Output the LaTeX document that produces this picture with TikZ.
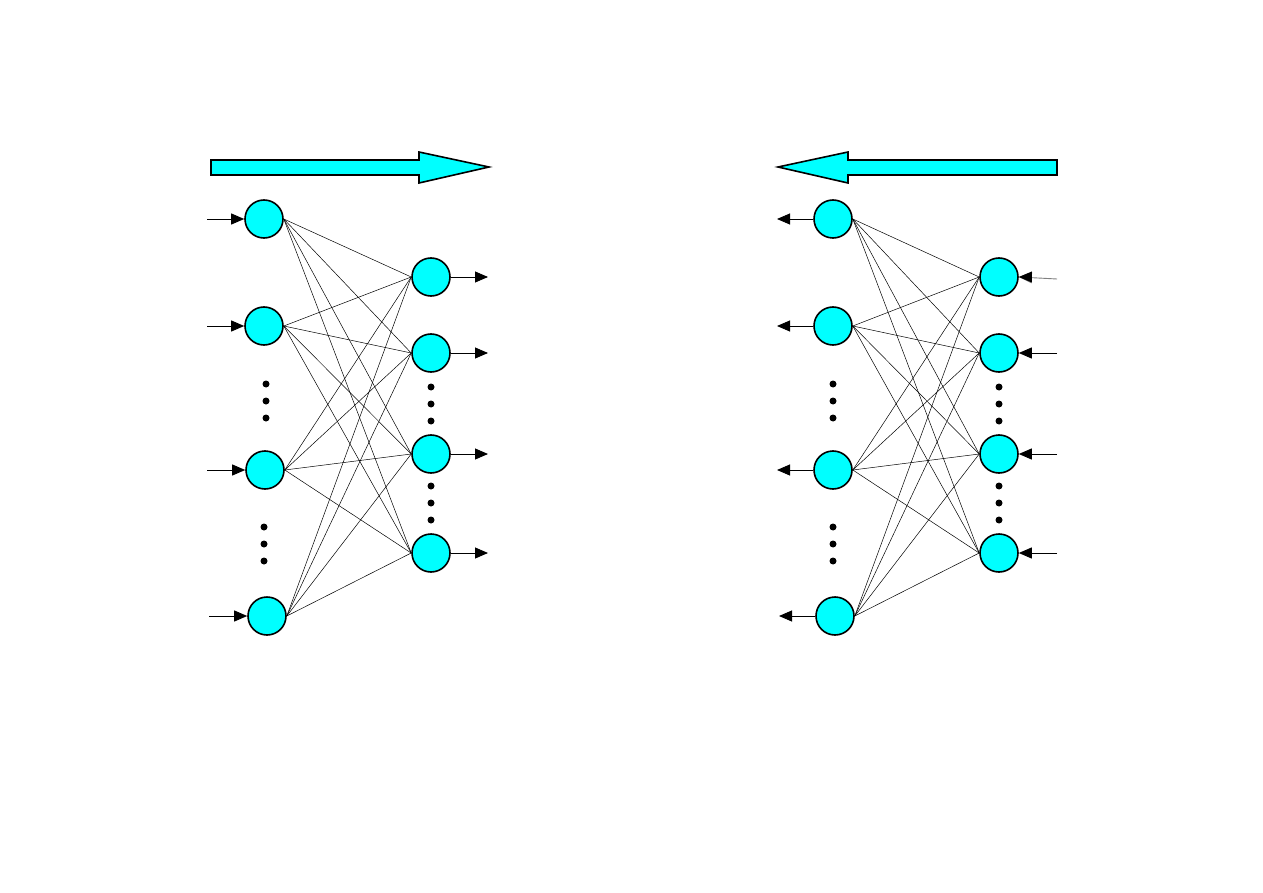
\documentclass[tikz,border=0pt]{standalone}
\usetikzlibrary{arrows.meta}
\definecolor{aqua}{RGB}{0,255,255}
\tikzset{
  neuron/.style={circle,draw=black,line width=1.6pt,fill=aqua,minimum size=38pt,inner sep=0pt},
  conn/.style={line width=0.5pt,draw=black},
  io/.style={line width=0.9pt,-{Triangle[length=13pt,width=11pt]}},
  dotmark/.style={circle,fill=black,minimum size=7pt,inner sep=0pt},
  bigarrow/.style={fill=aqua,draw=black,line width=1.6pt,line join=miter}
}
\begin{document}
\begin{tikzpicture}[x=1pt,y=-1pt]
\useasboundingbox (0,0) rectangle (1263,893);
% big arrows
\draw[bigarrow] (211,160) -- (419,160) -- (419,152) -- (489,167) -- (419,183) -- (419,175) -- (211,175) -- cycle;
\draw[bigarrow] (1057,160) -- (848,160) -- (848,152) -- (778,167) -- (848,183) -- (848,175) -- (1057,175) -- cycle;

% ---------- left network ----------
\node[neuron] (a1) at (264,219) {};
\node[neuron] (a2) at (264,326) {};
\node[neuron] (a3) at (265,470) {};
\node[neuron] (a4) at (267,616) {};
\node[neuron] (b1) at (431,277) {};
\node[neuron] (b2) at (431,353) {};
\node[neuron] (b3) at (431,454) {};
\node[neuron] (b4) at (431,553) {};
\foreach \i in {1,...,4}{\foreach \j in {1,...,4}{\draw[conn] (a\i.east) -- (b\j.west);}}
\coordinate (ia1) at (207,219);
\coordinate (ia2) at (207,326);
\coordinate (ia3) at (207,470);
\coordinate (ia4) at (209,616);
\foreach \i in {1,...,4}{\draw[io] (ia\i) -- (a\i.west);}
\coordinate (ob1) at (488,277);
\coordinate (ob2) at (488,353);
\coordinate (ob3) at (488,454);
\coordinate (ob4) at (488,553);
\foreach \i in {1,...,4}{\draw[io] (b\i.east) -- (ob\i);}
\foreach \y in {384,401,418}{\node[dotmark] (ld\y) at (266,\y) {};}
\foreach \y in {527,544,561}{\node[dotmark] (le\y) at (264,\y) {};}
\foreach \y in {387,404,421,486,503,520}{\node[dotmark] (lf\y) at (431,\y) {};}

% ---------- right network ----------
\node[neuron] (c1) at (833,219) {};
\node[neuron] (c2) at (833,326) {};
\node[neuron] (c3) at (833,470) {};
\node[neuron] (c4) at (835,616) {};
\node[neuron] (d1) at (999,277) {};
\node[neuron] (d2) at (999,353) {};
\node[neuron] (d3) at (999,454) {};
\node[neuron] (d4) at (999,553) {};
\foreach \i in {1,...,4}{\foreach \j in {1,...,4}{\draw[conn] (c\i.east) -- (d\j.west);}}
\coordinate (oc1) at (777,219);
\coordinate (oc2) at (777,326);
\coordinate (oc3) at (777,470);
\coordinate (oc4) at (779,616);
\foreach \i in {1,...,4}{\draw[io] (c\i.west) -- (oc\i);}
\coordinate (id1) at (1057,279);
\coordinate (id2) at (1057,353);
\coordinate (id3) at (1057,454);
\coordinate (id4) at (1057,553);
\draw[io,draw=gray] (id1) -- (d1.east);
\fill[black] (d1.east) -- ++(13,-5.5) -- ++(0,11) -- cycle;
\foreach \i in {2,3,4}{\draw[io] (id\i) -- (d\i.east);}
\foreach \y in {384,401,418}{\node[dotmark] (rd\y) at (833,\y) {};}
\foreach \y in {527,544,561}{\node[dotmark] (re\y) at (833,\y) {};}
\foreach \y in {387,404,421,486,503,520}{\node[dotmark] (rf\y) at (999,\y) {};}
\end{tikzpicture}
\end{document}
